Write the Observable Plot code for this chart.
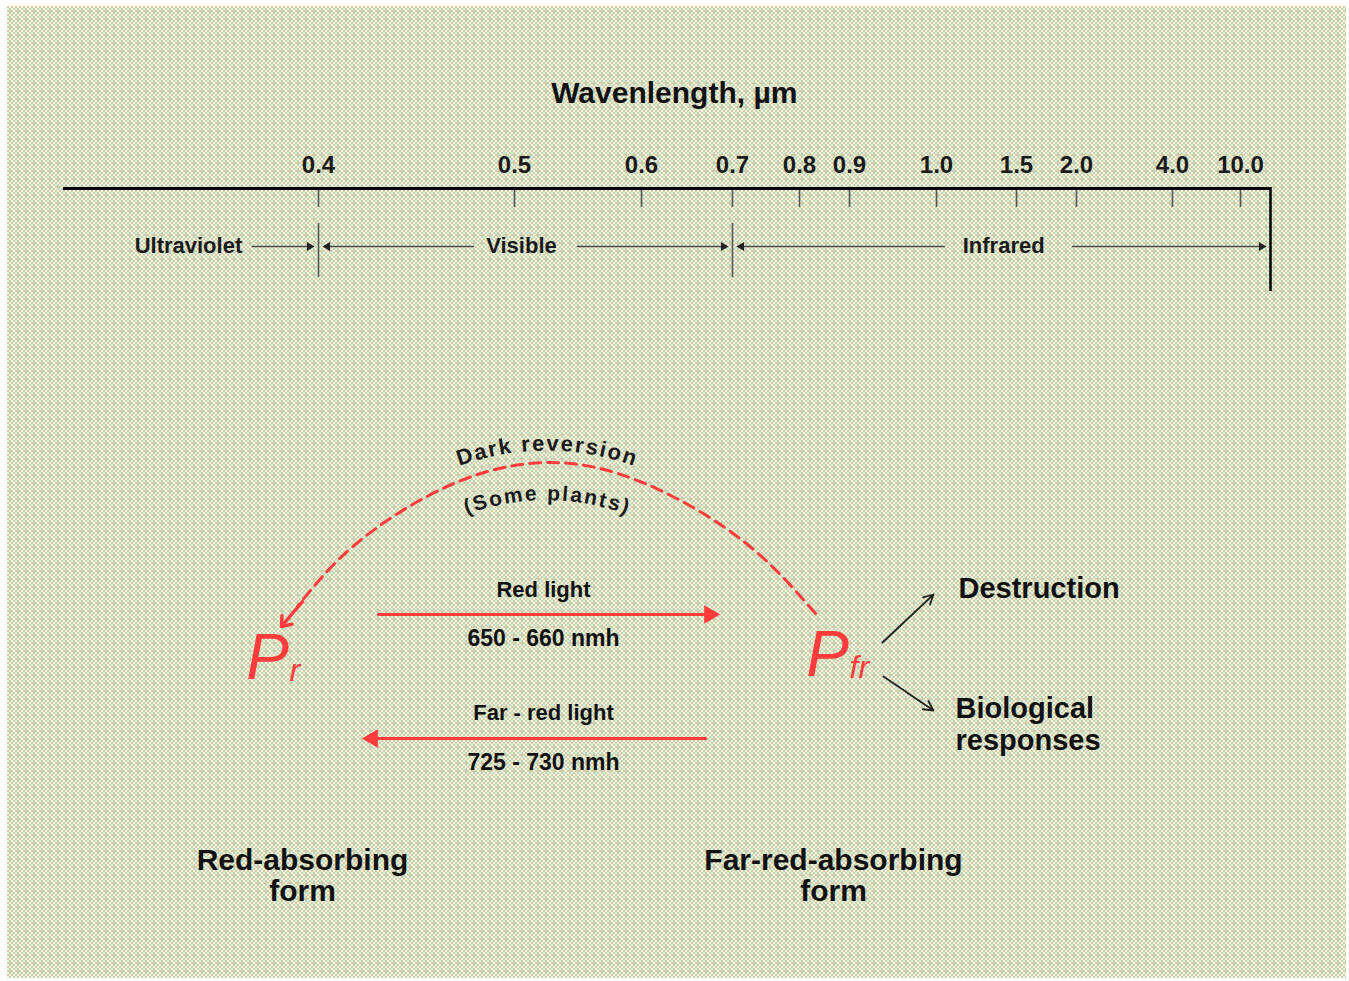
<!DOCTYPE html>
<html>
<head>
<meta charset="utf-8">
<script src="https://cdn.jsdelivr.net/npm/d3@7"></script>
<script src="https://cdn.jsdelivr.net/npm/@observablehq/plot@0.6"></script>
<style>
  html, body { margin: 0; padding: 0; background: #ffffff; }
  #wrap { position: relative; width: 1349px; height: 981px; overflow: hidden; }
  #bg { position: absolute; left: 7px; top: 6px; width: 1339px; height: 972px;
        background-image: url("data:image/svg+xml,%3Csvg xmlns='http://www.w3.org/2000/svg' width='8' height='8'%3E%3Crect width='8' height='8' fill='%23c9c9c7'/%3E%3Crect x='2' width='2' height='2' fill='%23ffffc2'/%3E%3Crect x='6' width='2' height='2' fill='%23ffffc6'/%3E%3Crect y='2' width='2' height='2' fill='%23d0ffcc'/%3E%3Crect x='4' y='2' width='2' height='2' fill='%23ffffc6'/%3E%3Crect x='2' y='4' width='2' height='2' fill='%23d4d498'/%3E%3Crect x='6' y='4' width='2' height='2' fill='%23ffffc0'/%3E%3Crect y='6' width='2' height='2' fill='%23ffffc4'/%3E%3Crect x='4' y='6' width='2' height='2' fill='%23ceffcc'/%3E%3C/svg%3E"); }
  .layer { position: absolute; left: 0; top: 0; }
</style>
</head>
<body>
<div id="wrap"><div id="bg"></div></div>
<script>
// ---------- data ----------
const axisTitle = "Wavenlength, \u00b5m";
const waveTicks = [0.4, 0.5, 0.6, 0.7, 0.8, 0.9, 1.0, 1.5, 2.0, 4.0, 10.0];
const waveTickLabels = ["0.4", "0.5", "0.6", "0.7", "0.8", "0.9", "1.0", "1.5", "2.0", "4.0", "10.0"];
const regionNames = ["Ultraviolet", "Visible", "Infrared"];
const regionCenters = [0.349, 0.5055, 1.42];        // wavelength at each label's centre
const regionBoundaries = [0.4, 0.7];
const axisEnds = [0.3, 11.9];
// region arrows: start (wavelength at the label's edge) -> end (region boundary)
const regionArrowStarts = [0.374, 0.479, 0.5496, 1.05, 1.967];
const regionArrowEnds   = [0.4,   0.4,   0.7,    0.7,  11.9];

const lightNames = ["Red light", "Far - red light"];
const lightRanges = ["650 - 660 nmh", "725 - 730 nmh"];
const formNames = ["Red-absorbing\nform", "Far-red-absorbing\nform"];
const outcomeNames = ["Destruction", "Biological\nresponses"];
const pigmentBase = ["P", "P"];
const pigmentSub = ["r", "fr"];
const reversionText = ["Dark reversion", "(Some plants)"];

// ---------- layout (diagram units) ----------
const waveDomain = [0.3, 0.4, 0.5, 0.6, 0.7, 0.8, 0.9, 1.0, 1.5, 2.0, 4.0, 10.0, 11.9];
const waveRange  = [63, 318, 514, 641, 732, 799, 849, 936, 1016, 1076, 1172, 1240, 1270];
const arcPath = [[815, 613], [742, 540], [642, 482], [548, 462], [451, 484], [356, 543], [297, 606]];
const arcHead = {x1: 302, y1: 601, x2: 281, y2: 626};
const lightArrows = [{x1: 378, x2: 719, y: 614}, {x1: 705, x2: 362, y: 738}];
const lightLabelY = [[589, 638], [712, 762]];
const outcomeArrows = [{x1: 882, y1: 642, x2: 933, y2: 594}, {x1: 883, y1: 676, x2: 933, y2: 710}];
const outcomePos = [{x: 958, y: 587}, {x: 955, y: 723}];
const pigmentPos = [{x: 267, y: 658, sx: 289, sy: 670}, {x: 827, y: 655, sx: 849, sy: 667}];
const formPos = [{x: 302, y: 875}, {x: 833, y: 875}];
const arcTextCircle = [{cx: 546, cy: 705, r: 262, size: 22, sp: 2.2}, {cx: 546, cy: 735, r: 242, size: 21, sp: 2.4}];

const RED = "#ff3b3b";
const FONT = "Liberation Sans, Arial, Helvetica, sans-serif";
const W = 1349, H = 981;

const wrap = document.getElementById("wrap");

// ---------- top: wavelength axis ----------
const regionArrows = regionArrowStarts.map((s, i) => ({x1: s, x2: regionArrowEnds[i], right: regionArrowEnds[i] > s}));

const axisPlot = Plot.plot({
  width: W, height: H, margin: 0,
  style: {background: "transparent"},
  x: {type: "linear", domain: waveDomain, range: waveRange, axis: null},
  y: {domain: [0, H], range: [0, H], axis: null},
  marks: [
    Plot.text([axisTitle], {x: () => 0.636, y: () => 93, text: d => d, fontSize: 30, fontWeight: "bold", fontFamily: FONT, fill: "#111"}),
    Plot.ruleY([188], {x1: axisEnds[0], x2: axisEnds[1], stroke: "#000", strokeWidth: 3}),
    Plot.ruleX([axisEnds[1]], {y1: 187, y2: 291, stroke: "#000", strokeWidth: 2.5}),
    Plot.ruleX(waveTicks, {y1: 190, y2: 207, stroke: "#555", strokeWidth: 1.6}),
    Plot.text(waveTicks, {x: d => d, y: () => 165, text: (d, i) => waveTickLabels[i], fontSize: 24, fontWeight: "bold", fontFamily: FONT, fill: "#1a1a1a"}),
    Plot.ruleX(regionBoundaries, {y1: 223, y2: 277, stroke: "#555", strokeWidth: 1.6}),
    Plot.text(regionNames, {x: (d, i) => regionCenters[i], y: () => 245, text: d => d, fontSize: 22, fontWeight: "bold", fontFamily: FONT, fill: "#1a1a1a"}),
    Plot.arrow(regionArrows, {x1: "x1", x2: "x2", y1: () => 246, y2: () => 246, insetEnd: 8, headLength: 0, stroke: "#4a4a4a", strokeWidth: 1.6}),
    Plot.dot(regionArrows.filter(d => d.right), {x: "x2", y: () => 246, dx: -9, symbol: "triangle", r: 3.3, rotate: 90, fill: "#222", stroke: "none"}),
    Plot.dot(regionArrows.filter(d => !d.right), {x: "x2", y: () => 246, dx: 9, symbol: "triangle", r: 3.3, rotate: -90, fill: "#222", stroke: "none"})
  ]
});
axisPlot.classList.add("layer");
wrap.appendChild(axisPlot);

// ---------- bottom: phytochrome diagram ----------
const canvas = document.createElement("canvas");
const ctx = canvas.getContext("2d");
function arcChars(str, {cx, cy, r, size, sp}) {
  ctx.font = `bold ${size}px ${FONT}`;
  const chars = [...str];
  const w = chars.map(c => ctx.measureText(c).width);
  const total = d3.sum(w) + sp * (chars.length - 1);
  let s = -total / 2;
  return chars.map((c, i) => {
    const mid = s + w[i] / 2;
    s += w[i] + sp;
    const th = mid / r;
    return {c, x: cx + r * Math.sin(th), y: cy - r * Math.cos(th), rot: th * 180 / Math.PI, size};
  });
}
const curvedChars = reversionText.flatMap((t, i) => arcChars(t, arcTextCircle[i]));
const lightData = lightArrows.map(d => ({...d, right: d.x2 > d.x1}));

const textStyle = {fontWeight: "bold", fontFamily: FONT, fill: "#111"};
const diagram = Plot.plot({
  width: W, height: H, margin: 0,
  style: {background: "transparent"},
  x: {domain: [0, W], range: [0, W], axis: null},
  y: {domain: [0, H], range: [0, H], axis: null},
  marks: [
    // dark reversion arc
    Plot.line(arcPath, {x: d => d[0], y: d => d[1], curve: "natural", stroke: RED, strokeWidth: 3, strokeDasharray: "11,7"}),
    Plot.arrow([arcHead], {x1: "x1", y1: "y1", x2: "x2", y2: "y2", stroke: RED, strokeWidth: 3.4, headLength: 16, headAngle: 75}),
    Plot.text(curvedChars, {x: "x", y: "y", text: "c", rotate: "rot", fontSize: d => d.size, ...textStyle, fill: "#1a1a1a"}),
    // red / far-red light arrows
    Plot.arrow(lightData, {x1: "x1", x2: "x2", y1: "y", y2: "y", insetEnd: 12, headLength: 0, stroke: RED, strokeWidth: 3.2}),
    Plot.dot(lightData.filter(d => d.right), {x: "x2", y: "y", dx: -10, symbol: "triangle", r: 6.8, rotate: 90, fill: RED, stroke: "none"}),
    Plot.dot(lightData.filter(d => !d.right), {x: "x2", y: "y", dx: 10, symbol: "triangle", r: 6.8, rotate: -90, fill: RED, stroke: "none"}),
    Plot.text(lightNames, {x: () => 543, y: (d, i) => lightLabelY[i][0], text: d => d, fontSize: 22, ...textStyle}),
    Plot.text(lightRanges, {x: () => 543, y: (d, i) => lightLabelY[i][1], text: d => d, fontSize: 23, ...textStyle}),
    // pigment symbols
    Plot.text(pigmentBase, {x: (d, i) => pigmentPos[i].x, y: (d, i) => pigmentPos[i].y, text: d => d, fontSize: 64, fontStyle: "italic", fontFamily: FONT, fill: RED}),
    Plot.text(pigmentSub, {x: (d, i) => pigmentPos[i].sx, y: (d, i) => pigmentPos[i].sy, text: d => d, fontSize: 32, fontStyle: "italic", fontFamily: FONT, fill: RED, textAnchor: "start"}),
    // outcomes
    Plot.arrow(outcomeArrows, {x1: "x1", y1: "y1", x2: "x2", y2: "y2", stroke: "#222", strokeWidth: 1.8, headLength: 9, headAngle: 55}),
    Plot.text(outcomeNames, {x: (d, i) => outcomePos[i].x, y: (d, i) => outcomePos[i].y, text: d => d, textAnchor: "start", lineHeight: 1.1, fontSize: 29, ...textStyle}),
    // form labels
    Plot.text(formNames, {x: (d, i) => formPos[i].x, y: (d, i) => formPos[i].y, text: d => d, lineHeight: 1.04, fontSize: 30, ...textStyle})
  ]
});
diagram.classList.add("layer");
wrap.appendChild(diagram);
</script>
</body>
</html>
